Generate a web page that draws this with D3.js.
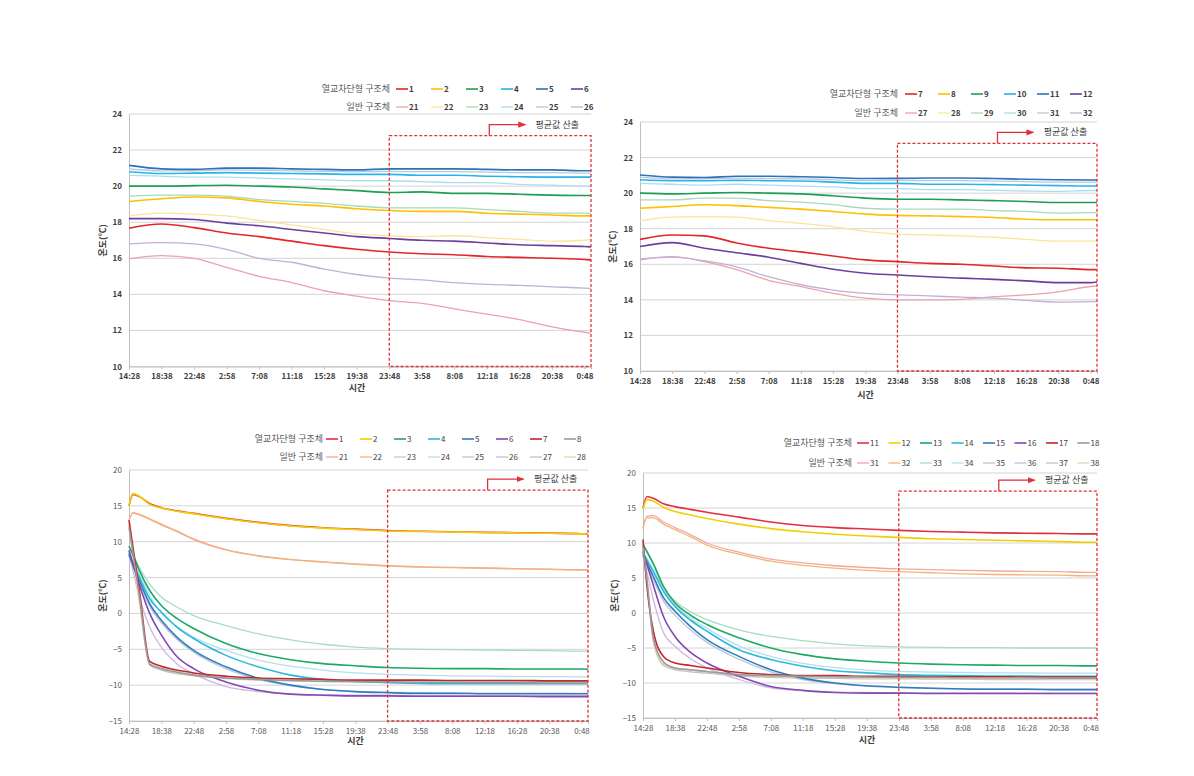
<!DOCTYPE html>
<html><head><meta charset="utf-8">
<script src="https://cdn.jsdelivr.net/npm/d3@7"></script>
<style>body{margin:0;background:#fff}svg{display:block}text{font-family:"Noto Sans CJK KR","Noto Sans",sans-serif}</style>
</head><body><svg id="c" width="1194" height="776"></svg>
<script>
// ---------- data ----------
const tickLabels = ["14:28","18:38","22:48","2:58","7:08","11:18","15:28","19:38","23:48","3:58","8:08","12:18","16:28","20:38","0:48"];
const tickMinutes = [0,250,500,750,1000,1250,1500,1750,2000,2250,2500,2750,3000,3250,3500];
const timesTop = [0,250,500,750,1000,1250,1500,1750,2000,2250,2500,2750,3000,3250,3500,3550];
const timesBottom = [0,30,80,160,250,370,500,750,1000,1250,1500,1750,2000,2250,2500,2750,3000,3250,3500,3550];
const avgStart = 2000; // 23:48
const legendTitleA = "열교차단형 구조체";
const legendTitleB = "일반 구조체";
const noteText = "평균값 산출";
const xTitle = "시간";
const yTitle = "온도(℃)";

// panel 1 (top-left)
const p1_1  = [17.67,17.9,17.7,17.4,17.2,16.95,16.7,16.5,16.35,16.25,16.2,16.1,16.05,16.0,15.93,15.9];
const p1_2  = [19.15,19.3,19.4,19.35,19.15,19.0,18.9,18.75,18.65,18.6,18.6,18.5,18.45,18.4,18.35,18.35];
const p1_3  = [20.0,20.0,20.03,20.05,20.0,19.95,19.85,19.75,19.65,19.68,19.6,19.6,19.55,19.5,19.48,19.48];
const p1_4  = [20.8,20.7,20.72,20.75,20.72,20.7,20.68,20.65,20.65,20.6,20.6,20.55,20.52,20.5,20.5,20.5];
const p1_5  = [21.15,20.96,20.93,21.0,21.0,20.96,20.93,20.9,20.96,20.96,20.96,20.93,20.9,20.9,20.85,20.85];
const p1_6  = [18.2,18.2,18.15,17.95,17.8,17.6,17.4,17.2,17.1,17.0,16.95,16.85,16.75,16.7,16.65,16.63];
const p1_21 = [15.97,16.15,16.0,15.5,15.0,14.65,14.2,13.9,13.65,13.5,13.2,12.9,12.6,12.2,11.9,11.85];
const p1_22 = [18.35,18.5,18.45,18.35,18.1,17.85,17.6,17.35,17.25,17.2,17.25,17.15,17.05,16.95,17.0,17.05];
const p1_23 = [19.45,19.5,19.5,19.45,19.25,19.15,19.05,18.9,18.8,18.8,18.8,18.7,18.6,18.5,18.5,18.5];
const p1_24 = [20.6,20.55,20.5,20.5,20.45,20.4,20.35,20.3,20.3,20.25,20.2,20.2,20.1,20.05,20.0,20.0];
const p1_25 = [20.95,20.85,20.85,20.9,20.88,20.85,20.82,20.8,20.82,20.8,20.8,20.78,20.75,20.75,20.72,20.72];
const p1_26 = [16.8,16.87,16.8,16.5,16.0,15.78,15.4,15.1,14.9,14.8,14.65,14.55,14.5,14.42,14.35,14.33];

// panel 2 (top-right)
const p2_7  = [17.4,17.65,17.6,17.2,16.9,16.7,16.47,16.25,16.15,16.05,16.0,15.9,15.8,15.78,15.7,15.7];
const p2_8  = [19.15,19.25,19.35,19.3,19.2,19.1,18.97,18.82,18.75,18.72,18.68,18.63,18.53,18.5,18.5,18.5];
const p2_9  = [20.0,19.96,20.0,20.04,20.0,19.96,19.85,19.72,19.66,19.66,19.62,19.58,19.53,19.47,19.47,19.47];
const p2_10 = [20.75,20.7,20.7,20.72,20.7,20.68,20.62,20.55,20.55,20.5,20.5,20.48,20.45,20.42,20.4,20.4];
const p2_11 = [21.02,20.9,20.88,20.95,20.95,20.92,20.88,20.82,20.83,20.85,20.85,20.82,20.78,20.75,20.74,20.74];
const p2_12 = [17.0,17.22,16.9,16.65,16.4,16.05,15.72,15.5,15.4,15.3,15.22,15.15,15.07,14.97,14.97,15.0];
const p2_27 = [16.25,16.43,16.15,15.7,15.1,14.75,14.37,14.1,14.0,14.0,14.03,14.18,14.28,14.45,14.75,14.78];
const p2_28 = [18.45,18.65,18.68,18.65,18.45,18.3,18.12,17.85,17.7,17.65,17.6,17.52,17.4,17.3,17.3,17.32];
const p2_29 = [19.62,19.62,19.72,19.72,19.58,19.5,19.35,19.15,19.1,19.1,19.1,19.02,18.97,18.88,18.9,18.9];
const p2_30 = [20.55,20.5,20.45,20.5,20.45,20.4,20.35,20.25,20.25,20.2,20.2,20.15,20.12,20.1,20.15,20.15];
const p2_31 = [20.9,20.8,20.8,20.85,20.82,20.8,20.75,20.7,20.72,20.7,20.7,20.68,20.65,20.62,20.62,20.62];
const p2_32 = [16.3,16.4,16.2,15.85,15.3,14.85,14.55,14.37,14.28,14.22,14.15,14.1,13.97,13.87,13.9,13.9];

// panel 3 (bottom-left)
const p3_1  = [15.0,16.6,16.3,15.3,14.75,14.3,13.95,13.25,12.7,12.25,11.95,11.75,11.55,11.45,11.38,11.3,11.25,11.2,11.12,11.1];
const p3_2  = [15.0,16.7,16.35,15.2,14.7,14.25,13.9,13.2,12.65,12.2,11.9,11.7,11.5,11.42,11.35,11.28,11.22,11.17,11.1,11.08];
const p3_3  = [9.4,8.2,6.0,3.2,1.1,-0.7,-2.1,-4.2,-5.6,-6.45,-7.0,-7.3,-7.55,-7.65,-7.7,-7.7,-7.75,-7.75,-7.75,-7.78];
const p3_4  = [8.4,7.0,5.05,2.05,0.2,-1.9,-3.5,-5.85,-7.45,-8.6,-9.2,-9.5,-9.65,-9.75,-9.8,-9.8,-9.8,-9.8,-9.8,-9.8];
const p3_5  = [8.2,6.8,4.6,1.35,-0.95,-3.3,-5.15,-7.45,-9.05,-10.0,-10.6,-10.9,-11.05,-11.15,-11.15,-11.2,-11.2,-11.2,-11.2,-11.2];
const p3_6  = [8.8,6.9,4.0,0.0,-3.0,-6.0,-7.7,-9.55,-10.7,-11.25,-11.4,-11.5,-11.5,-11.55,-11.55,-11.55,-11.55,-11.6,-11.6,-11.6];
const p3_7  = [13.0,9.3,3.2,-6.7,-7.35,-7.9,-8.3,-8.75,-9.0,-9.1,-9.2,-9.3,-9.3,-9.3,-9.35,-9.35,-9.35,-9.4,-9.4,-9.4];
const p3_8  = [12.0,8.5,2.5,-7.1,-7.7,-8.2,-8.6,-9.0,-9.2,-9.35,-9.45,-9.5,-9.55,-9.6,-9.6,-9.65,-9.65,-9.7,-9.7,-9.7];
const p3_21 = [12.9,14.05,13.8,13.2,12.45,11.5,10.4,8.9,8.05,7.55,7.2,6.9,6.65,6.5,6.42,6.35,6.25,6.18,6.1,6.1];
const p3_22 = [13.0,14.0,13.75,13.1,12.35,11.4,10.3,8.85,8.0,7.5,7.15,6.85,6.6,6.45,6.38,6.3,6.2,6.13,6.05,6.05];
const p3_23 = [9.3,8.2,6.4,4.1,2.3,0.9,-0.3,-1.7,-2.85,-3.7,-4.3,-4.7,-4.9,-5.0,-5.05,-5.1,-5.15,-5.2,-5.25,-5.25];
const p3_24 = [8.8,7.4,5.5,2.5,0.0,-1.8,-3.3,-5.15,-6.5,-7.35,-7.9,-8.3,-8.5,-8.6,-8.7,-8.75,-8.8,-8.8,-8.85,-8.85];
const p3_25 = [8.0,6.5,4.2,1.0,-1.3,-3.6,-5.4,-7.7,-9.2,-10.1,-10.6,-10.9,-11.0,-11.05,-11.1,-11.1,-11.1,-11.1,-11.15,-11.15];
const p3_26 = [8.5,6.0,2.3,-1.9,-4.7,-7.0,-8.4,-10.2,-10.9,-11.25,-11.35,-11.4,-11.4,-11.45,-11.45,-11.45,-11.45,-11.45,-11.45,-11.45];
const p3_27 = [12.5,8.8,2.0,-7.2,-7.9,-8.4,-8.7,-9.1,-9.3,-9.4,-9.5,-9.55,-9.6,-9.6,-9.65,-9.65,-9.7,-9.7,-9.7,-9.7];
const p3_28 = [12.2,8.0,1.5,-7.0,-7.6,-8.1,-8.5,-8.9,-9.1,-9.2,-9.3,-9.35,-9.4,-9.45,-9.45,-9.5,-9.5,-9.5,-9.5,-9.5];

// panel 4 (bottom-right)
const p4_11 = [15.0,16.6,16.4,15.6,15.2,14.8,14.4,13.7,13.0,12.5,12.2,12.0,11.8,11.65,11.55,11.45,11.4,11.35,11.3,11.3];
const p4_12 = [14.8,16.2,16.0,15.1,14.5,14.0,13.5,12.7,12.05,11.6,11.25,11.0,10.8,10.6,10.5,10.4,10.3,10.2,10.1,10.1];
const p4_13 = [9.8,8.8,7.1,3.8,1.45,-0.3,-1.65,-3.55,-5.0,-5.95,-6.55,-6.9,-7.15,-7.3,-7.4,-7.45,-7.5,-7.5,-7.55,-7.55];
const p4_14 = [8.6,7.6,5.95,3.1,0.95,-1.0,-2.6,-5.25,-6.65,-7.6,-8.25,-8.55,-8.8,-8.9,-8.95,-9.0,-9.0,-9.05,-9.05,-9.05];
const p4_15 = [8.3,7.2,5.25,2.2,0.25,-1.9,-3.8,-6.2,-8.1,-9.3,-10.0,-10.4,-10.6,-10.75,-10.85,-10.9,-10.9,-10.95,-10.95,-10.95];
const p4_16 = [8.8,7.0,4.0,-0.5,-3.35,-5.6,-7.15,-9.05,-10.5,-11.05,-11.35,-11.45,-11.45,-11.5,-11.5,-11.5,-11.5,-11.5,-11.5,-11.5];
const p4_17 = [10.5,4.0,-2.5,-6.2,-7.15,-7.5,-7.85,-8.5,-8.8,-8.95,-8.95,-9.05,-9.05,-9.1,-9.1,-9.1,-9.15,-9.15,-9.15,-9.15];
const p4_18 = [9.5,5.0,-3.5,-7.0,-7.85,-8.1,-8.35,-8.8,-8.95,-9.05,-9.1,-9.15,-9.2,-9.2,-9.25,-9.25,-9.25,-9.3,-9.3,-9.3];
const p4_31 = [12.0,13.8,13.9,13.0,12.2,11.2,10.0,8.7,7.7,7.15,6.75,6.5,6.3,6.2,6.1,6.0,5.95,5.9,5.8,5.8];
const p4_32 = [12.2,13.6,13.6,12.7,11.9,10.9,9.7,8.4,7.4,6.8,6.4,6.1,5.9,5.75,5.6,5.5,5.45,5.4,5.3,5.3];
const p4_33 = [9.8,8.7,6.9,3.5,1.7,0.2,-0.95,-2.4,-3.35,-3.95,-4.4,-4.7,-4.85,-4.9,-4.95,-4.95,-5.0,-5.0,-5.0,-5.0];
const p4_34 = [8.8,7.8,6.2,3.3,1.2,-0.7,-2.2,-4.7,-6.2,-7.2,-7.8,-8.15,-8.35,-8.45,-8.5,-8.55,-8.55,-8.6,-8.6,-8.6];
const p4_35 = [8.0,6.8,4.8,1.7,-0.3,-2.4,-4.2,-6.6,-8.4,-9.5,-10.1,-10.45,-10.65,-10.75,-10.8,-10.85,-10.85,-10.9,-10.9,-10.9];
const p4_36 = [8.5,6.0,2.0,-2.8,-4.75,-6.5,-7.85,-9.5,-10.7,-11.1,-11.3,-11.35,-11.4,-11.4,-11.4,-11.4,-11.45,-11.45,-11.45,-11.45];
const p4_37 = [9.0,4.5,-4.0,-7.5,-8.1,-8.4,-8.6,-9.0,-9.2,-9.3,-9.35,-9.4,-9.4,-9.45,-9.45,-9.5,-9.5,-9.5,-9.5,-9.5];
const p4_38 = [9.2,4.8,-3.8,-7.3,-7.9,-8.2,-8.45,-8.85,-9.05,-9.15,-9.2,-9.25,-9.3,-9.3,-9.35,-9.35,-9.35,-9.4,-9.4,-9.4];

// ---------- styles ----------
const topMainColors = ["#e3262b","#ffc000","#1e9e55","#29b3e6","#2e72b8","#6b3fa0"];
const topPaleColors = ["#eaa3ad","#fbe59a","#a6dbb9","#a9def0","#b7c9de","#c4b0d6"];
const botMainColors = ["#e0303f","#f2d000","#1ea866","#2bbad8","#2f7cbf","#8348b4","#c0282a","#9a9a9a"];
const botPaleColors = ["#f0a8a0","#f4b478","#a8dcc6","#b2e0ee","#b9c8d6","#cdb8e0","#c8c0c0","#e4d4b8"];

const svg = d3.select("#c");

const panels = [
  {left:129,right:591,top:114,bottom:366.5,yDomain:[10,24],yTicks:[10,12,14,16,18,20,22,24],boxTop:22.8,
   times:timesTop, bold:true,
   main:[["1",p1_1],["2",p1_2],["3",p1_3],["4",p1_4],["5",p1_5],["6",p1_6]],
   pale:[["21",p1_21],["22",p1_22],["23",p1_23],["24",p1_24],["25",p1_25],["26",p1_26]],
   mainC:topMainColors,paleC:topPaleColors,
   legX:390,legY:[89,107],legX0:396,legDx:35, xTitleY:391, yTitleX:106},
  {left:640,right:1097,top:122,bottom:371,yDomain:[10,24],yTicks:[10,12,14,16,18,20,22,24],boxTop:22.8,
   times:timesTop, bold:true,
   main:[["7",p2_7],["8",p2_8],["9",p2_9],["10",p2_10],["11",p2_11],["12",p2_12]],
   pale:[["27",p2_27],["28",p2_28],["29",p2_29],["30",p2_30],["31",p2_31],["32",p2_32]],
   mainC:topMainColors,paleC:topPaleColors,
   legX:898,legY:[94,113],legX0:905,legDx:33, xTitleY:398, yTitleX:616},
  {left:129,right:588,top:470,bottom:721,yDomain:[-15,20],yTicks:[-15,-10,-5,0,5,10,15,20],boxTop:17.2,
   times:timesBottom, bold:false,
   main:[["1",p3_1],["2",p3_2],["3",p3_3],["4",p3_4],["5",p3_5],["6",p3_6],["7",p3_7],["8",p3_8]],
   pale:[["21",p3_21],["22",p3_22],["23",p3_23],["24",p3_24],["25",p3_25],["26",p3_26],["27",p3_27],["28",p3_28]],
   mainC:botMainColors,paleC:botPaleColors,
   legX:323,legY:[439,457],legX0:326,legDx:34, xTitleY:744, yTitleX:106},
  {left:643,right:1097,top:473,bottom:718,yDomain:[-15,20],yTicks:[-15,-10,-5,0,5,10,15,20],boxTop:17.4,
   times:timesBottom, bold:false,
   main:[["11",p4_11],["12",p4_12],["13",p4_13],["14",p4_14],["15",p4_15],["16",p4_16],["17",p4_17],["18",p4_18]],
   pale:[["31",p4_31],["32",p4_32],["33",p4_33],["34",p4_34],["35",p4_35],["36",p4_36],["37",p4_37],["38",p4_38]],
   mainC:botMainColors,paleC:botPaleColors,
   legX:852,legY:[443,463],legX0:857,legDx:31.5, xTitleY:743, yTitleX:618}
];

svg.append("defs").append("marker").attr("id","arr").attr("viewBox","0 0 10 10")
  .attr("refX",9).attr("refY",5).attr("markerWidth",6).attr("markerHeight",6).attr("orient","auto")
  .append("path").attr("d","M0,1 L10,5 L0,9 Z").attr("fill","#e0303c");

function drawPanel(p){
  const x = d3.scaleLinear().domain([0,3550]).range([p.left,p.right]);
  const y = d3.scaleLinear().domain(p.yDomain).range([p.bottom,p.top]);
  const g = svg.append("g");
  const fw = p.bold ? "bold" : "normal";
  const tc = p.bold ? "#404040" : "#595959";

  g.append("g").selectAll("line").data(p.yTicks).join("line")
    .attr("x1",p.left).attr("x2",p.right).attr("y1",d=>y(d)).attr("y2",d=>y(d))
    .attr("stroke","#d4d4d4").attr("stroke-width",1);

  const ya = g.append("g").attr("transform",`translate(${p.left},0)`)
    .call(d3.axisLeft(y).tickValues(p.yTicks).tickSize(0).tickPadding(7));
  ya.select(".domain").attr("stroke","#bfbfbf");
  ya.selectAll("text").attr("font-size",8).attr("font-weight",fw).attr("fill",tc);

  const xa = g.append("g").attr("transform",`translate(0,${p.bottom})`)
    .call(d3.axisBottom(x).tickValues(tickMinutes).tickFormat((d,i)=>tickLabels[i]).tickSize(3).tickPadding(4));
  xa.select(".domain").attr("stroke","#bfbfbf");
  xa.selectAll(".tick line").attr("stroke","#bfbfbf");
  xa.selectAll("text").attr("font-size",8).attr("font-weight",fw).attr("fill",tc);

  const line = d3.line().x((d,i)=>x(p.times[i])).y(d=>y(d)).curve(d3.curveMonotoneX);
  g.append("g").selectAll("path").data(p.pale).join("path")
    .attr("d",d=>line(d[1])).attr("fill","none")
    .attr("stroke",(d,i)=>p.paleC[i]).attr("stroke-width",1.3);
  g.append("g").selectAll("path").data(p.main).join("path")
    .attr("d",d=>line(d[1])).attr("fill","none")
    .attr("stroke",(d,i)=>p.mainC[i]).attr("stroke-width",1.6);

  // average box
  const bx = x(avgStart), by = y(p.boxTop);
  g.append("rect").attr("x",bx).attr("y",by).attr("width",p.right-bx).attr("height",p.bottom-by)
    .attr("fill","none").attr("stroke","#e0303c").attr("stroke-width",1.3).attr("stroke-dasharray","3,2");
  const ax = bx+100;
  g.append("path").attr("d",`M${ax},${by} V${by-11} H${ax+36}`).attr("fill","none")
    .attr("stroke","#e0303c").attr("stroke-width",1.3).attr("marker-end","url(#arr)");
  g.append("text").attr("x",ax+68).attr("y",by-8).attr("text-anchor","middle")
    .attr("font-size",9).attr("fill","#404040").text(noteText);

  // titles
  g.append("text").attr("x",(p.left+p.right)/2-3).attr("y",p.xTitleY).attr("text-anchor","middle")
    .attr("font-size",9).attr("font-weight","bold").attr("fill","#404040").text(xTitle);
  g.append("text").attr("transform",`translate(${p.yTitleX},${(p.top+p.bottom)/2}) rotate(-90)`)
    .attr("text-anchor","middle").attr("font-size",9).attr("font-weight","bold").attr("fill","#404040").text(yTitle);

  // legend
  [[legendTitleA,p.main,p.mainC,1.6],[legendTitleB,p.pale,p.paleC,1.3]].forEach((row,r)=>{
    const ly = p.legY[r];
    g.append("text").attr("x",p.legX).attr("y",ly+3).attr("text-anchor","end")
      .attr("font-size",9).attr("fill","#595959").text(row[0]);
    const items = g.append("g").selectAll("g").data(row[1]).join("g")
      .attr("transform",(d,i)=>`translate(${p.legX0+i*p.legDx},${ly})`);
    items.append("line").attr("x1",0).attr("x2",12).attr("y1",0).attr("y2",0)
      .attr("stroke",(d,i)=>row[2][i]).attr("stroke-width",row[3]);
    items.append("text").attr("x",13).attr("y",3).attr("font-size",8)
      .attr("font-weight",fw).attr("fill","#404040").text(d=>d[0]);
  });
}
panels.forEach(drawPanel);
</script></body></html>
